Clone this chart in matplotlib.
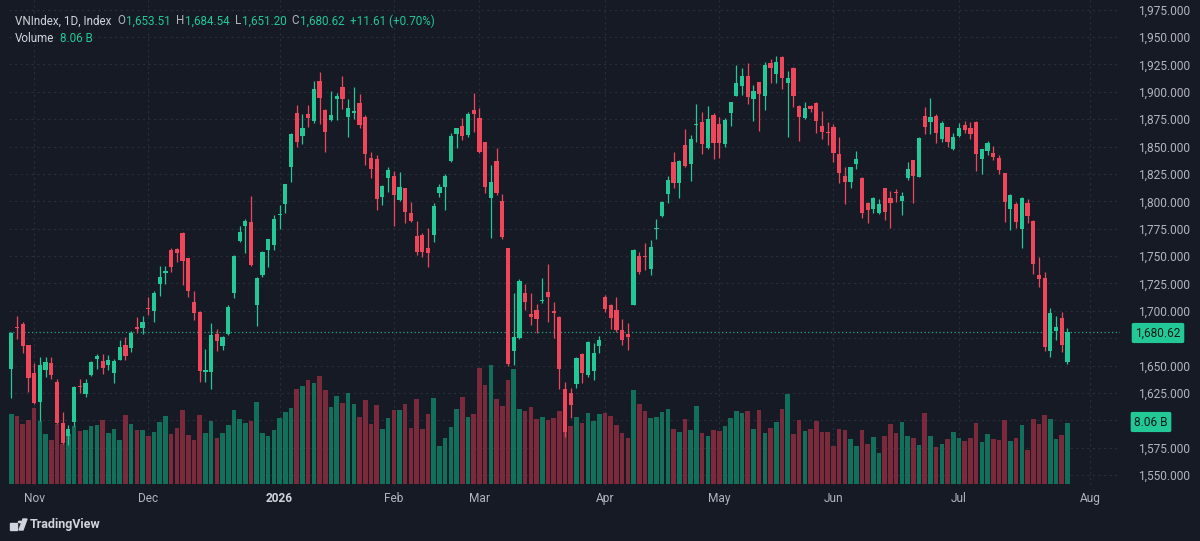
import matplotlib
matplotlib.use("Agg")
import matplotlib.pyplot as plt
from matplotlib.patches import Rectangle, Polygon, Circle
from matplotlib.ticker import FuncFormatter

plt.rcParams["font.family"] = ["Roboto", "DejaVu Sans"]

# ---------------------------------------------------------------------------
# Data: VNIndex daily candles (trading-day index), volume in billions
# ---------------------------------------------------------------------------
opens = [
    1646.7, 1685.5, 1688.0, 1668.6, 1643.6, 1617.1, 1646.1, 1652.1, 1634.8, 1597.4,
    1585.8, 1598.8, 1631.7, 1624.1, 1641.5, 1656.3, 1654.0, 1650.3, 1643.0, 1655.5,
    1668.8, 1666.1, 1685.3, 1684.4, 1702.5, 1700.2, 1724.5, 1734.8, 1755.6, 1756.2,
    1771.4, 1748.0, 1707.8, 1699.0, 1644.5, 1644.2, 1679.2, 1667.9, 1678.9, 1716.0,
    1763.8, 1777.5, 1781.4, 1705.4, 1732.5, 1755.6, 1760.1, 1787.9, 1797.6, 1831.1,
    1880.4, 1859.9, 1879.7, 1873.3, 1909.8, 1883.4, 1874.2, 1893.7, 1904.1, 1876.7,
    1880.4, 1890.0, 1877.2, 1839.3, 1838.4, 1803.7, 1821.6, 1823.1, 1801.2, 1811.9,
    1789.6, 1768.3, 1769.3, 1757.1, 1769.3, 1807.3, 1813.3, 1837.1, 1861.5, 1868.8,
    1860.5, 1883.4, 1875.8, 1853.9, 1802.8, 1837.1, 1800.6, 1757.1, 1663.6, 1675.0,
    1716.0, 1697.1, 1700.8, 1708.5, 1717.5, 1700.2, 1694.1, 1629.0, 1625.3, 1632.9,
    1660.3, 1641.5, 1645.1, 1667.9, 1712.9, 1705.1, 1700.8, 1682.5, 1678.9, 1705.4,
    1750.1, 1750.4, 1737.9, 1774.9, 1786.6, 1806.7, 1835.6, 1817.0, 1851.4, 1834.1,
    1869.8, 1872.7, 1848.4, 1878.8, 1870.6, 1852.3, 1880.4, 1896.4, 1905.3, 1914.7,
    1893.4, 1908.6, 1896.4, 1926.5, 1916.2, 1932.0, 1907.7, 1921.4, 1887.3, 1875.8,
    1887.0, 1889.5, 1868.8, 1863.5, 1867.6, 1843.2, 1823.4, 1817.9, 1834.1, 1821.6,
    1798.2, 1792.7, 1789.0, 1811.9, 1803.3, 1808.3, 1800.3, 1821.0, 1837.7, 1822.5,
    1877.9, 1872.4, 1877.9, 1856.6, 1867.6, 1847.5, 1859.9, 1869.7, 1866.7, 1872.7,
    1838.4, 1846.2, 1843.8, 1839.5, 1825.6, 1792.7, 1797.6, 1774.5, 1798.8, 1782.0,
    1732.5, 1729.7, 1663.4, 1681.9, 1693.2, 1653.51,
]
highs = [
    1680.5, 1695.3, 1689.9, 1669.0, 1652.1, 1658.2, 1658.2, 1657.6, 1637.5, 1608.0,
    1595.8, 1631.0, 1637.8, 1637.8, 1654.0, 1660.6, 1660.6, 1659.7, 1655.8, 1673.4,
    1675.9, 1681.6, 1694.0, 1695.3, 1712.9, 1718.4, 1741.0, 1741.0, 1757.7, 1757.7,
    1771.7, 1748.5, 1718.1, 1700.2, 1664.9, 1688.6, 1683.2, 1677.0, 1705.0, 1751.0,
    1777.7, 1783.6, 1805.1, 1730.6, 1754.5, 1766.0, 1787.5, 1796.6, 1816.0, 1862.0,
    1887.9, 1879.7, 1887.9, 1910.1, 1917.8, 1884.0, 1900.7, 1898.6, 1914.7, 1893.4,
    1904.1, 1898.0, 1878.8, 1845.3, 1842.3, 1815.0, 1831.6, 1828.0, 1826.5, 1812.5,
    1799.7, 1782.3, 1770.8, 1775.4, 1798.8, 1815.8, 1824.6, 1862.1, 1867.0, 1875.8,
    1881.8, 1899.2, 1884.9, 1854.5, 1833.2, 1848.4, 1806.7, 1757.5, 1716.0, 1728.8,
    1724.5, 1716.0, 1706.3, 1729.9, 1742.8, 1708.4, 1695.0, 1635.4, 1629.3, 1658.0,
    1661.3, 1672.5, 1670.4, 1677.0, 1714.4, 1706.0, 1712.9, 1692.3, 1689.2, 1756.0,
    1754.0, 1761.7, 1764.7, 1783.6, 1800.5, 1823.1, 1845.3, 1837.7, 1865.7, 1860.5,
    1888.5, 1881.3, 1887.0, 1880.4, 1876.7, 1875.8, 1891.0, 1924.4, 1921.4, 1926.5,
    1906.2, 1909.0, 1927.2, 1929.6, 1932.7, 1933.0, 1919.0, 1923.0, 1888.0, 1891.0,
    1888.0, 1890.5, 1882.5, 1872.7, 1870.6, 1858.4, 1831.1, 1831.5, 1846.0, 1822.5,
    1799.0, 1804.0, 1801.8, 1812.5, 1809.4, 1811.3, 1808.2, 1835.6, 1838.0, 1858.7,
    1886.4, 1894.0, 1879.4, 1873.6, 1868.0, 1862.0, 1871.2, 1873.6, 1872.7, 1873.0,
    1848.0, 1855.1, 1850.2, 1842.3, 1826.0, 1806.5, 1799.7, 1804.0, 1802.1, 1783.0,
    1749.5, 1735.8, 1702.3, 1695.6, 1699.2, 1684.54,
]
lows = [
    1620.7, 1674.0, 1661.3, 1626.2, 1615.0, 1599.7, 1639.9, 1637.5, 1596.5, 1578.0,
    1577.6, 1594.9, 1624.7, 1621.7, 1640.0, 1646.7, 1642.4, 1646.0, 1633.9, 1655.0,
    1655.2, 1662.7, 1680.0, 1678.6, 1696.2, 1689.9, 1713.9, 1724.5, 1735.8, 1744.9,
    1723.6, 1712.9, 1691.7, 1635.4, 1635.4, 1628.4, 1663.6, 1664.2, 1678.0, 1712.0,
    1763.0, 1753.0, 1741.0, 1686.2, 1731.2, 1739.8, 1755.6, 1774.5, 1789.6, 1817.9,
    1849.3, 1852.3, 1868.1, 1871.8, 1870.6, 1845.3, 1873.6, 1874.2, 1884.3, 1859.0,
    1874.9, 1866.7, 1833.2, 1821.0, 1792.1, 1796.6, 1808.8, 1777.5, 1800.5, 1780.5,
    1781.4, 1751.0, 1749.5, 1740.3, 1763.0, 1804.2, 1792.1, 1836.2, 1848.4, 1856.0,
    1858.4, 1863.6, 1843.8, 1807.9, 1766.2, 1805.8, 1765.9, 1649.7, 1650.6, 1674.0,
    1700.8, 1687.1, 1679.5, 1707.5, 1690.2, 1675.5, 1628.4, 1585.1, 1601.9, 1629.3,
    1633.9, 1639.4, 1636.9, 1661.8, 1699.2, 1683.0, 1681.0, 1668.9, 1664.3, 1705.0,
    1733.4, 1737.3, 1732.7, 1765.3, 1785.4, 1798.8, 1811.9, 1802.8, 1831.6, 1818.8,
    1854.4, 1843.2, 1847.5, 1838.4, 1839.3, 1849.3, 1868.8, 1896.0, 1897.0, 1888.8,
    1873.6, 1864.5, 1883.4, 1908.3, 1908.3, 1902.3, 1859.0, 1886.4, 1855.3, 1875.5,
    1881.8, 1862.6, 1856.6, 1851.4, 1836.2, 1817.0, 1797.6, 1812.4, 1829.5, 1784.5,
    1780.5, 1789.0, 1788.4, 1783.0, 1775.4, 1799.7, 1787.5, 1819.5, 1798.2, 1821.9,
    1861.5, 1861.5, 1853.0, 1854.4, 1849.3, 1846.8, 1858.4, 1862.1, 1856.6, 1828.0,
    1824.9, 1842.3, 1837.7, 1824.9, 1781.4, 1773.8, 1775.4, 1757.1, 1779.9, 1733.4,
    1721.5, 1663.4, 1657.6, 1673.4, 1662.7, 1651.20,
]
closes = [
    1679.5, 1684.5, 1668.2, 1638.5, 1615.6, 1650.9, 1653.6, 1641.5, 1597.4, 1579.1,
    1592.2, 1630.8, 1630.2, 1634.4, 1653.3, 1659.1, 1647.6, 1655.2, 1654.0, 1667.0,
    1659.1, 1679.5, 1683.5, 1689.6, 1701.5, 1716.0, 1730.6, 1736.7, 1740.3, 1752.6,
    1745.8, 1718.1, 1697.8, 1645.4, 1645.5, 1678.2, 1672.8, 1675.9, 1703.8, 1750.4,
    1771.7, 1782.3, 1741.9, 1729.7, 1754.0, 1765.6, 1783.9, 1788.5, 1815.8, 1861.5,
    1854.4, 1867.2, 1876.4, 1902.3, 1894.0, 1863.6, 1878.8, 1896.1, 1893.1, 1884.9,
    1882.2, 1869.7, 1842.9, 1829.5, 1802.1, 1814.0, 1828.6, 1805.8, 1812.8, 1790.5,
    1782.0, 1754.0, 1754.0, 1753.1, 1795.7, 1813.3, 1823.1, 1859.6, 1866.7, 1859.6,
    1879.4, 1879.4, 1845.3, 1812.8, 1817.6, 1807.3, 1767.2, 1651.5, 1675.9, 1727.5,
    1708.4, 1694.7, 1692.3, 1709.5, 1712.9, 1697.8, 1646.7, 1589.7, 1613.5, 1657.2,
    1643.6, 1671.9, 1661.3, 1673.4, 1701.7, 1693.8, 1682.5, 1673.4, 1676.4, 1755.6,
    1735.8, 1749.0, 1758.0, 1775.9, 1799.7, 1819.5, 1816.5, 1836.8, 1832.2, 1856.7,
    1870.8, 1852.3, 1874.9, 1853.5, 1853.0, 1874.2, 1890.4, 1908.3, 1914.7, 1895.0,
    1900.7, 1897.7, 1924.7, 1921.4, 1927.5, 1912.3, 1912.3, 1896.4, 1876.7, 1884.9,
    1884.0, 1873.6, 1863.0, 1862.5, 1843.8, 1825.6, 1817.9, 1831.1, 1838.4, 1789.6,
    1792.1, 1803.3, 1797.6, 1790.5, 1798.8, 1807.2, 1805.1, 1829.5, 1823.1, 1857.5,
    1868.1, 1877.2, 1862.1, 1871.2, 1854.4, 1859.0, 1866.7, 1865.1, 1861.5, 1842.9,
    1847.5, 1853.0, 1840.2, 1828.6, 1799.7, 1805.8, 1781.4, 1803.3, 1786.9, 1742.5,
    1729.4, 1667.3, 1698.3, 1685.0, 1669.01, 1680.62,
]
volumes = [
    9.34, 8.98, 8.02, 8.55, 10.13, 8.36, 6.70, 5.90, 8.02, 5.38,
    6.60, 7.66, 7.04, 7.13, 7.66, 7.79, 8.49, 6.83, 7.30, 5.81,
    9.11, 7.96, 7.22, 7.22, 6.34, 6.96, 8.28, 8.98, 6.60, 7.40,
    9.77, 6.47, 5.90, 9.20, 6.83, 8.32, 6.17, 6.83, 7.79, 9.77,
    8.59, 8.06, 8.32, 10.83, 6.83, 6.38, 7.13, 8.72, 9.60, 10.13,
    12.59, 12.95, 13.74, 13.38, 14.27, 12.42, 10.21, 11.62, 10.79, 12.06,
    10.57, 8.89, 11.10, 7.93, 10.44, 7.27, 8.81, 9.77, 9.87, 10.57,
    7.40, 11.32, 7.30, 9.25, 11.45, 5.02, 6.08, 7.57, 10.00, 11.53,
    8.89, 9.25, 15.42, 13.08, 15.72, 11.23, 10.31, 13.74, 15.29, 10.00,
    9.64, 10.21, 8.68, 8.89, 8.55, 8.81, 9.64, 7.79, 7.66, 8.89,
    8.10, 9.42, 8.32, 9.25, 9.47, 8.98, 7.79, 6.78, 6.17, 12.51,
    10.66, 9.64, 8.81, 8.89, 9.55, 10.00, 7.36, 6.91, 8.68, 7.13,
    10.31, 6.78, 6.34, 7.22, 7.00, 7.70, 8.72, 9.64, 9.42, 9.64,
    7.36, 9.77, 6.78, 7.49, 8.23, 10.00, 11.98, 6.70, 8.55, 7.04,
    7.27, 8.32, 6.87, 6.87, 5.11, 7.27, 7.22, 6.04, 5.11, 7.22,
    5.38, 6.25, 4.13, 6.43, 8.02, 6.78, 8.19, 6.34, 6.08, 5.24,
    9.47, 6.34, 4.93, 5.38, 6.04, 6.91, 6.17, 5.72, 6.12, 8.10,
    5.59, 6.70, 5.94, 5.90, 8.55, 5.68, 6.12, 7.89, 4.49, 8.63,
    7.93, 9.11, 8.68, 5.94, 6.47, 8.06,
]

# first trading day of each month (candle index) and its axis label
month_idx = [4, 24, 47, 67, 82, 104, 124, 144, 166, 189]
month_labels = ["Nov", "Dec", "2026", "Feb", "Mar", "Apr", "May", "Jun", "Jul", "Aug"]

price_ticks = [1550 + 25 * i for i in range(18)]
hidden_ticks = [1600, 1675]  # covered by the last-value labels
last_price = 1680.62
last_volume = 8.06

# ---------------------------------------------------------------------------
# Style
# ---------------------------------------------------------------------------
BG = "#161a25"
GRID = "#2a2e39"
TEXT = "#b2b5be"
UP = "#22c997"
DOWN = "#f0465c"
UP_VOL = "#12705a"
DOWN_VOL = "#7b2a3b"

W, H = 1200, 541
fig = plt.figure(figsize=(W / 100, H / 100), dpi=100, facecolor=BG)


def fx(px):
    return px / W


def fy(py):
    return 1 - py / H


left, right, top, bottom = 9, 1120, 0, 485
rect = [fx(left), fy(bottom), fx(right - left), (bottom - top) / H]

ax_vol = fig.add_axes(rect, zorder=1)
ax = fig.add_axes(rect, zorder=2, sharex=ax_vol)
ax.patch.set_visible(False)
ax_vol.set_facecolor(BG)

n = len(closes)
xs = list(range(n))

# volume
vol_colors = [UP_VOL if c >= o else DOWN_VOL for o, c in zip(opens, closes)]
ax_vol.bar(xs, volumes, width=0.8, color=vol_colors, linewidth=0)
ax_vol.set_ylim(-0.1, 64.1)
ax_vol.set_yticks([])

# candles
colors = [UP if c >= o else DOWN for o, c in zip(opens, closes)]
ax.vlines(xs, lows, highs, colors=colors, linewidth=0.9, zorder=3)
body_bottom = [min(o, c) for o, c in zip(opens, closes)]
body_height = [max(abs(c - o), 0.9) for o, c in zip(opens, closes)]
ax.bar(xs, body_height, bottom=body_bottom, width=0.74, color=colors,
       linewidth=0, zorder=4)

ax.set_xlim(-0.4, 194.2)
ax.set_ylim(1540.9, 1983.8)

# grid (drawn on the back axes so candles and volume sit on top)
for m in month_idx:
    ax_vol.axvline(m, color=GRID, linewidth=0.8, linestyle=(0, (2, 3)), zorder=0)
for p in price_ticks:
    yv = ax_vol.transData.inverted().transform(ax.transData.transform((0, p)))[1]
    ax_vol.axhline(yv, color=GRID, linewidth=0.8, linestyle=(0, (2, 3)), zorder=0)

# last price dotted line
ax.axhline(last_price, color=UP, linewidth=0.9, linestyle=(0, (1, 2)),
           alpha=0.8, zorder=2)

# price axis on the right
ax.yaxis.tick_right()
ax.set_yticks(price_ticks)
ax.yaxis.set_major_formatter(
    FuncFormatter(lambda v, _: "" if round(v) in hidden_ticks else f"{v:,.3f}"))
ax.tick_params(axis="y", length=0, pad=13, labelsize=8.6, labelcolor=TEXT)

# month labels
ax.set_xticks(month_idx)
ax.set_xticklabels(month_labels)
ax.tick_params(axis="x", length=0, pad=5, labelsize=8.6, labelcolor=TEXT)
for lab in ax.get_xticklabels():
    if lab.get_text() == "2026":
        lab.set_fontweight("bold")
        lab.set_color("#d1d4dc")
ax_vol.tick_params(axis="x", length=0, labelbottom=False)

for a in (ax, ax_vol):
    for s in a.spines.values():
        s.set_visible(False)

# right-axis labels for last price and volume
box = dict(boxstyle="round,pad=0.3,rounding_size=0.15", fc=UP, ec="none")
fig.text(fx(1158), fy(333), f"{last_price:,.2f}", ha="center", va="center",
         fontsize=8.6, color="#0f1a17", bbox=box, zorder=10)
fig.text(fx(1151), fy(422), f"{last_volume:.2f} B", ha="center", va="center",
         fontsize=8.6, color="#0f1a17", bbox=box, zorder=10)

# legend header, laid out left to right from measured text widths
renderer = fig.canvas.get_renderer()


def chain(x, y, parts, size=8.4):
    for s, c, gap in parts:
        t = fig.text(fx(x), y, s, fontsize=size, color=c, va="center")
        x += t.get_window_extent(renderer).width + gap
    return x


chain(15, fy(21), [
    ("VNIndex, 1D, Index", "#d1d4dc", 6),
    ("O", TEXT, 1), ("1,653.51", UP, 5),
    ("H", TEXT, 1), ("1,684.54", UP, 5),
    ("L", TEXT, 1), ("1,651.20", UP, 5),
    ("C", TEXT, 1), ("1,680.62", UP, 5),
    ("+11.61 (+0.70%)", UP, 0),
])
chain(15, fy(38), [("Volume", "#d1d4dc", 6), ("8.06 B", UP, 0)])

# TradingView mark
fig.patches.append(Rectangle((fx(10), fy(530)), fx(7), 7 / H, color="#d1d4dc",
                             transform=fig.transFigure, figure=fig))
fig.patches.append(Circle((fx(20), fy(522)), 1.6 / W, color="#d1d4dc",
                          transform=fig.transFigure, figure=fig))
fig.patches.append(Polygon([(fx(19), fy(530)), (fx(23), fy(519)), (fx(27), fy(519)),
                            (fx(23), fy(530))], closed=True, color="#d1d4dc",
                           transform=fig.transFigure, figure=fig))
fig.text(fx(30), fy(524.5), "TradingView", fontsize=9, color="#d1d4dc",
         fontweight="bold", va="center")

fig.savefig("out.png", dpi=100, facecolor=BG)
